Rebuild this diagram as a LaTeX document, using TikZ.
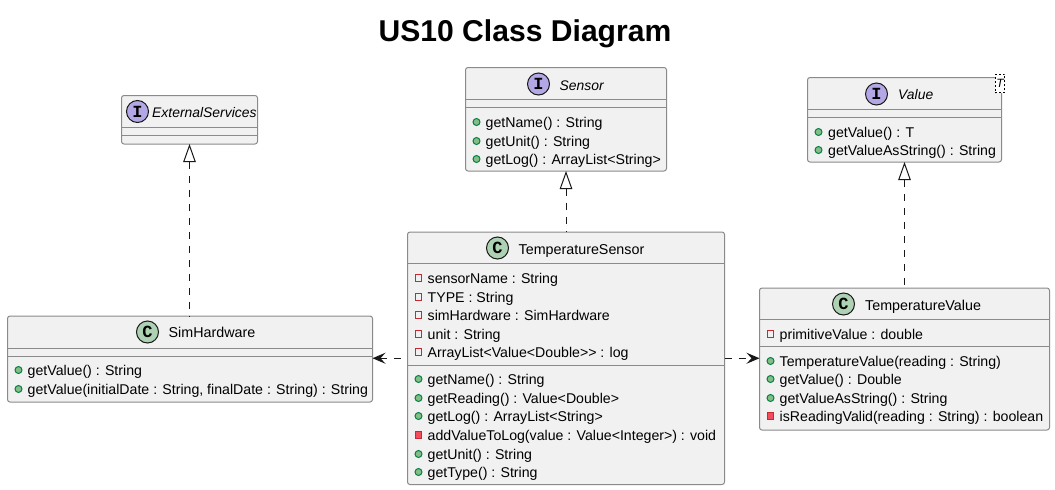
\documentclass[tikz,border=0pt]{standalone}
\usepackage{fontspec}
\setmainfont{Liberation Sans}
\newfontfamily\spotfont{Liberation Mono}
\usetikzlibrary{arrows.meta}
\definecolor{boxfill}{HTML}{F1F1F1}
\definecolor{boxline}{HTML}{8A8A8A}
\definecolor{inkdark}{HTML}{181818}
\definecolor{ifacefill}{HTML}{B4A7E5}
\definecolor{classfill}{HTML}{ADD1B2}
\definecolor{pubfill}{HTML}{84BE84}
\definecolor{publine}{HTML}{038048}
\definecolor{privline}{HTML}{C82930}
\definecolor{privfill}{HTML}{F24D5C}
\newcounter{rowno}
\tikzset{
  umlbox/.style={draw=boxline,fill=boxfill,line width=1pt,rounded corners=2.5pt,inner sep=0pt,outer sep=0pt},
  divider/.style={draw=boxline,line width=1pt},
  spot/.style={circle,draw=inkdark,line width=1pt,minimum size=22pt,inner sep=0pt},
  spoti/.style={spot,fill=ifacefill},
  spotc/.style={spot,fill=classfill},
  spottext/.style={font=\spotfont\bfseries\fontsize{17}{17}\selectfont,text=black},
  headtext/.style={anchor=base west,inner sep=0pt,font=\fontsize{14.3}{14.3}\selectfont,text=black},
  headital/.style={headtext,font=\itshape\fontsize{13.9}{13.9}\selectfont},
  rowtext/.style={anchor=base west,inner sep=0pt,font=\fontsize{14.15}{14.15}\selectfont,text=black},
  pubicon/.style={circle,draw=publine,fill=pubfill,line width=1pt,minimum size=7pt,inner sep=0pt},
  privfield/.style={rectangle,draw=privline,fill=none,line width=1pt,minimum size=6.5pt,inner sep=0pt},
  privmeth/.style={rectangle,draw=privline,fill=privfill,line width=1pt,minimum size=6.5pt,inner sep=0pt},
  realize/.style={draw=inkdark,line width=1pt,dash pattern=on 7pt off 7pt,
    {Triangle[open,length=18pt,width=12.5pt,fill=white]}-},
  depend/.style={draw=inkdark,line width=1pt,dash pattern=on 7pt off 7pt,
    -{Stealth[length=13pt,width=11pt,inset=5pt,inkdark]}},
}
\newcommand{\classbox}[7]{% name x1 y1 x2 y2 d1 d2
  \pgfmathsetlengthmacro{\boxw}{(#4-#2)*1pt}
  \pgfmathsetlengthmacro{\boxh}{(#5-#3)*1pt}
  \node[umlbox,anchor=north west,minimum width=\boxw,minimum height=\boxh] (#1) at (#2,#3) {};
  \draw[divider] (#1.west |- 0,#6) -- (#1.east |- 0,#6);
  \draw[divider] (#1.west |- 0,#7) -- (#1.east |- 0,#7);
}
\newcommand{\umlrow}[5]{% icon style, icon x, text x, y, text
  \stepcounter{rowno}
  \node[#1] (icon\therowno) at (#2,#4) {};
  \node[rowtext] (row\therowno) at (#3,#4+5.4) {#5};
}
\begin{document}
\begin{tikzpicture}[x=1pt,y=-1pt]
\useasboundingbox (0,0) rectangle (1055,490);
\node[inner sep=0pt,font=\bfseries\fontsize{30.1}{30.1}\selectfont] (title) at (525,34) {US10 Class Diagram};

% ExternalServices
\classbox{ext}{121.5}{95.5}{257.5}{144}{127.5}{135.5}
\node[spoti] (extspot) at (137.5,111.5) {};
\node[spottext] (exti) at (extspot) {I};
\node[headital] (extname) at (152,117.5) {ExternalServices};

% Sensor
\classbox{sensor}{465.5}{67.5}{666.5}{171}{99.5}{107.5}
\node[spoti] (senspot) at (538.5,84) {};
\node[spottext] (seni) at (senspot) {I};
\node[headital] (senname) at (559.5,90) {Sensor};
\umlrow{pubicon}{476.5}{485.5}{122}{getName() : String}
\umlrow{pubicon}{476.5}{485.5}{141}{getUnit() : String}
\umlrow{pubicon}{476.5}{485.5}{159}{getLog() : ArrayList<String>}

% Value
\classbox{value}{807.5}{77.5}{1001.5}{162}{109}{117}
\node[spoti] (valspot) at (876.5,94) {};
\node[spottext] (vali) at (valspot) {I};
\node[headital] (valname) at (898,99.5) {Value};
\node[draw=black,fill=white,dash pattern=on 2pt off 2pt,line width=0.8pt,minimum width=9.5pt,minimum height=18.5pt,inner sep=0pt,font=\itshape\fontsize{12}{12}\selectfont] (valgen) at (1000,83.5) {T};
\umlrow{pubicon}{818.5}{828}{132}{getValue() : T}
\umlrow{pubicon}{818.5}{828}{150}{getValueAsString() : String}

% SimHardware
\classbox{sim}{7.5}{316}{372.5}{402}{348}{356}
\node[spotc] (simspot) at (147.5,332) {};
\node[spottext] (simc) at (simspot) {C};
\node[headtext] (simname) at (168.5,337.5) {SimHardware};
\umlrow{pubicon}{18.5}{27.5}{370}{getValue() : String}
\umlrow{pubicon}{18.5}{27.5}{389}{getValue(initialDate : String, finalDate : String) : String}

% TemperatureSensor
\classbox{tsensor}{407.5}{232}{724.5}{484.5}{263.5}{365.5}
\node[spotc] (tsspot) at (497.5,248) {};
\node[spottext] (tsc) at (tsspot) {C};
\node[headtext] (tsname) at (518.5,254) {TemperatureSensor};
\umlrow{privfield}{418.5}{427.5}{278}{sensorName : String}
\umlrow{privfield}{418.5}{427.5}{297}{TYPE : String}
\umlrow{privfield}{418.5}{427.5}{315}{simHardware : SimHardware}
\umlrow{privfield}{418.5}{427.5}{334}{unit : String}
\umlrow{privfield}{418.5}{427.5}{352}{ArrayList<Value<Double>{}> : log}
\umlrow{pubicon}{418.5}{427.5}{379}{getName() : String}
\umlrow{pubicon}{418.5}{427.5}{398}{getReading() : Value<Double>}
\umlrow{pubicon}{418.5}{427.5}{416}{getLog() : ArrayList<String>}
\umlrow{privmeth}{418.5}{427.5}{435}{addValueToLog(value : Value<Integer>) : void}
\umlrow{pubicon}{418.5}{427.5}{454}{getUnit() : String}
\umlrow{pubicon}{418.5}{427.5}{472}{getType() : String}

% TemperatureValue
\classbox{tvalue}{759.5}{288}{1049.5}{430}{319.5}{346}
\node[spotc] (tvspot) at (843.5,304) {};
\node[spottext] (tvc) at (tvspot) {C};
\node[headtext] (tvname) at (865,310) {TemperatureValue};
\umlrow{privfield}{770.5}{779.5}{334}{primitiveValue : double}
\umlrow{pubicon}{770.5}{779.5}{361}{TemperatureValue(reading : String)}
\umlrow{pubicon}{770.5}{779.5}{379}{getValue() : Double}
\umlrow{pubicon}{770.5}{779.5}{398}{getValueAsString() : String}
\umlrow{privmeth}{770.5}{779.5}{416}{isReadingValid(reading : String) : boolean}

% Connectors
\draw[realize] (ext.south) -- (sim.north -| ext.south);
\draw[realize] (sensor.south) -- (tsensor.north);
\draw[realize] (value.south) -- (tvalue.north);
\draw[depend,dash phase=7pt] (tsensor.west) -- (tsensor.west -| sim.east);
\draw[depend] (tsensor.east) -- (tsensor.east -| tvalue.west);
\end{tikzpicture}
\end{document}
